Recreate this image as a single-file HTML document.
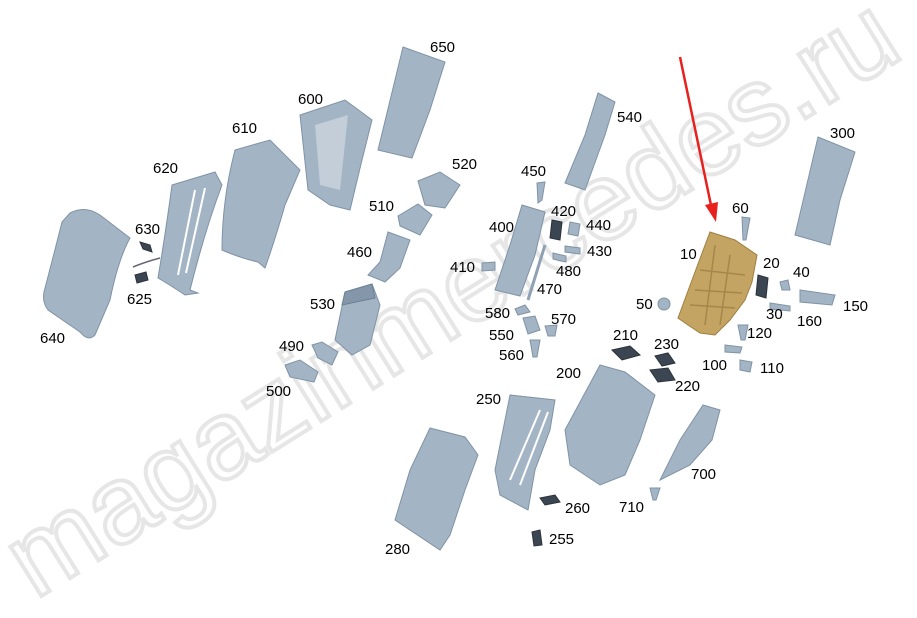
<!DOCTYPE html>
<html><head><meta charset="utf-8"><style>
html,body{margin:0;padding:0;background:#fff;}
svg{display:block;}
text{font-family:"Liberation Sans",Arial,sans-serif;font-size:15px;fill:#000;}
.p{fill:#a3b4c4;stroke:#7f93a6;stroke-width:1;}
.d{fill:#8497aa;stroke:#6d8093;stroke-width:1;}
.k{fill:#3c4652;stroke:#2a323a;}
.wm{font-size:110px;fill:none;stroke:#e6e6e6;stroke-width:4;font-family:"Liberation Sans",sans-serif;}
</style></head><body>
<svg width="917" height="618" viewBox="0 0 917 618" xmlns="http://www.w3.org/2000/svg">
<text class="wm" x="0" y="0" transform="translate(35,600) rotate(-32)">magazinmercedes.ru</text>

<path class="p" d="M70,213 Q85,205 100,215 L130,238 Q118,260 110,300 L95,335 Q88,342 80,332 L48,310 Q42,302 44,292 Q55,250 62,222 Z"/>
<path class="k" d="M140,242 L150,245 L152,252 L143,249 Z"/>
<path class="k" d="M135,275 L146,272 L148,280 L137,283 Z"/>
<path d="M133,267 Q145,262 160,258" stroke="#667" fill="none" stroke-width="1.5"/>
<path class="p" d="M172,185 L215,172 L222,185 Q205,230 190,290 L198,293 L185,295 Q170,285 158,278 Q166,230 172,185 Z"/>
<path d="M178,275 L195,190 M186,273 L205,188" stroke="#fff" stroke-width="2"/>
<path class="p" d="M235,150 L270,140 L300,170 L285,205 Q275,240 265,268 L258,262 Q240,258 222,250 Q222,200 235,150 Z"/>
<path class="p" d="M300,115 L345,100 L372,120 L362,160 L350,210 L330,205 L308,190 Z"/>
<path d="M315,125 L348,115 L340,190 L320,185 Z" fill="#c3ced8"/>
<path class="p" d="M403,47 L445,62 L430,110 L412,158 L378,150 Z"/>
<path class="p" d="M418,181 L440,172 L460,185 L445,208 L425,205 Z"/>
<path class="p" d="M398,216 L418,204 L432,215 L420,235 L400,226 Z"/>
<path class="p" d="M388,232 L410,240 L400,268 L385,282 L368,275 L380,262 Z"/>
<path class="p" d="M345,292 L372,284 L380,305 L370,345 L352,355 L335,340 Z"/>
<path class="d" d="M345,292 L372,284 L375,298 L342,305 Z"/>
<path class="p" d="M312,345 L322,342 L338,352 L332,365 L318,358 Z"/>
<path class="p" d="M285,365 L300,360 L318,372 L314,382 L290,377 Z"/>
<path class="p" d="M598,93 L615,102 L605,135 L585,190 L565,183 L585,135 Z"/>
<path class="p" d="M537,183 L545,182 L542,200 L538,203 Z"/>
<path class="p" d="M522,205 L545,212 L535,255 L520,296 L495,290 L510,245 Z"/>
<path class="k" d="M552,220 L562,222 L560,240 L550,238 Z"/>
<path class="p" d="M570,222 L580,224 L578,236 L568,234 Z"/>
<path class="p" d="M565,246 L580,248 L580,254 L565,252 Z"/>
<path class="p" d="M553,253 L566,256 L566,262 L553,259 Z"/>
<path class="p" d="M482,263 L495,262 L495,270 L482,271 Z"/>
<path d="M545,245 L528,300" stroke="#8fa2b4" stroke-width="3"/>
<path class="p" d="M515,309 L525,305 L530,312 L518,315 Z"/>
<path class="p" d="M523,318 L535,316 L540,330 L528,334 Z"/>
<path class="p" d="M545,326 L557,325 L555,336 L548,336 Z"/>
<path class="p" d="M530,340 L540,340 L537,357 L533,357 Z"/>
<path class="p" d="M818,137 L855,152 L840,200 L830,245 L795,235 Z"/>
<path class="p" d="M742,217 L750,218 L746,240 L743,240 Z"/>
<path fill="#c4a462" stroke="#9e7f40" d="M710,232 L735,240 L757,255 L752,282 L745,300 L730,320 L715,335 L700,333 L688,325 L678,318 L692,280 Z"/>
<path d="M700,270 L745,275 M695,290 L742,293 M690,305 L735,308 M715,245 L705,325 M730,255 L720,325" stroke="#a5874a" stroke-width="1.5"/>
<circle cx="664" cy="304" r="6" class="p"/>
<path class="k" d="M758,275 L768,278 L766,298 L756,295 Z"/>
<path class="p" d="M780,282 L788,280 L790,290 L782,290 Z"/>
<path class="p" d="M770,303 L790,306 L790,311 L770,309 Z"/>
<path class="p" d="M800,290 L835,295 L832,305 L800,302 Z"/>
<path class="p" d="M738,325 L748,325 L745,340 L741,340 Z"/>
<path class="p" d="M725,345 L742,347 L740,353 L725,352 Z"/>
<path class="p" d="M740,360 L752,362 L750,372 L740,370 Z"/>
<path class="k" d="M612,350 L630,346 L640,355 L622,360 Z"/>
<path class="k" d="M655,356 L668,353 L675,363 L662,366 Z"/>
<path class="k" d="M650,370 L668,368 L675,380 L658,382 Z"/>
<path class="p" d="M600,365 L625,372 L655,395 L640,440 L625,475 L600,485 L570,465 L565,430 Z"/>
<path class="p" d="M703,405 L720,410 L712,440 L690,465 L660,480 L680,440 Z"/>
<path class="p" d="M650,488 L660,488 L656,500 L653,500 Z"/>
<path class="p" d="M510,395 L555,400 L550,430 L535,470 L528,510 L500,495 L495,470 Z"/>
<path d="M510,480 L540,410 M520,485 L548,412" stroke="#fff" stroke-width="2"/>
<path class="k" d="M540,498 L555,495 L560,502 L545,505 Z"/>
<path class="k" d="M532,532 L540,530 L542,545 L534,546 Z"/>
<path class="p" d="M430,428 L465,437 L478,455 L465,490 L450,535 L440,550 L395,520 L410,470 Z"/>

<line x1="680" y1="57" x2="712" y2="210" stroke="#e8201e" stroke-width="2.5"/>
<path d="M705,205 L716,222 L718,202 Z" fill="#e8201e"/>

<g>
<text x="430" y="52">650</text><text x="298" y="104">600</text><text x="232" y="133">610</text>
<text x="153" y="173">620</text><text x="135" y="234">630</text><text x="127" y="304">625</text>
<text x="40" y="343">640</text><text x="452" y="169">520</text><text x="369" y="211">510</text>
<text x="347" y="257">460</text><text x="310" y="309">530</text><text x="279" y="351">490</text>
<text x="266" y="396">500</text><text x="617" y="122">540</text><text x="521" y="176">450</text>
<text x="551" y="216">420</text><text x="586" y="230">440</text><text x="489" y="232">400</text>
<text x="587" y="256">430</text><text x="450" y="272">410</text><text x="556" y="276">480</text>
<text x="537" y="294">470</text><text x="485" y="318">580</text><text x="551" y="324">570</text>
<text x="489" y="340">550</text><text x="499" y="360">560</text><text x="830" y="138">300</text>
<text x="732" y="213">60</text><text x="680" y="259">10</text><text x="763" y="268">20</text>
<text x="793" y="277">40</text><text x="636" y="309">50</text><text x="843" y="311">150</text>
<text x="766" y="319">30</text><text x="797" y="326">160</text><text x="747" y="338">120</text>
<text x="613" y="340">210</text><text x="654" y="349">230</text><text x="702" y="370">100</text>
<text x="760" y="373">110</text><text x="556" y="378">200</text><text x="675" y="391">220</text>
<text x="476" y="404">250</text><text x="691" y="479">700</text><text x="565" y="513">260</text>
<text x="619" y="512">710</text><text x="549" y="544">255</text><text x="385" y="554">280</text>
</g>
</svg>
</body></html>
